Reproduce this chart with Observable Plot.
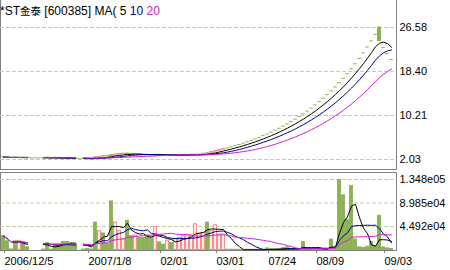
<!DOCTYPE html>
<html><head><meta charset="utf-8">
<script src="https://cdn.jsdelivr.net/npm/d3@7"></script>
<script src="https://cdn.jsdelivr.net/npm/@observablehq/plot@0.6"></script>
<style>
body{margin:0;background:#fff;}
#wrap{position:relative;width:450px;height:270px;overflow:hidden;font-family:"Liberation Sans",Arial,"Noto Sans CJK SC",sans-serif;}
#title{position:absolute;left:0px;top:4px;font-size:12px;line-height:14px;white-space:pre;z-index:2;color:#000;}
#title .cjk{font-size:10.5px;}
#price{position:absolute;left:0;top:0;}
#vol{position:absolute;left:0;top:170px;}
</style></head><body>
<div id="wrap"><div id="price"></div><div id="vol"></div><div id="title"></div></div>
<script>
// ---- data ----
const stockPrefix = "*ST";
const stockName = "金泰";
const stockCode = "600385";
const maPeriods = [5, 10, 20];
const tickIndex = [0, 21, 39, 53, 66, 78, 95];
const tickLabels = ["2006/12/5", "2007/1/8", "02/01", "03/01", "07/24", "08/09", "09/03"];
const priceTicks = [2.03, 10.21, 18.40, 26.58];
const volTicks = [44923, 89847, 134770];

const open = [2.48,2.45,2.40,2.42,2.36,2.40,2.36,2.33,2.33,2.33,
  2.33,2.36,2.33,2.34,2.31,2.28,2.27,2.25,2.23,2.19,
  2.19,2.19,2.16,2.42,2.36,2.62,2.66,2.85,2.75,2.93,
  3.05,3.12,3.01,2.96,3.02,2.95,2.91,2.87,2.82,2.90,
  2.86,2.82,2.85,2.82,2.85,2.88,2.89,2.90,2.86,2.90,
  2.98,3.26,3.30,3.48,3.65,3.85,4.16,4.37,4.59,4.82,
  5.06,5.31,5.58,5.86,6.15,6.46,6.78,7.12,7.48,7.85,
  8.24,8.65,9.08,9.53,10.01,10.51,11.04,11.59,12.17,12.78,
  13.42,14.09,14.79,15.53,16.31,17.13,17.99,18.89,19.83,20.82,
  21.86,22.95,24.10,25.31,26.58,22.85,21.71,20.62];
const high = [2.50,2.46,2.41,2.43,2.42,2.41,2.37,2.33,2.33,2.33,
  2.34,2.37,2.34,2.35,2.32,2.30,2.28,2.26,2.24,2.19,
  2.20,2.20,2.17,2.46,2.55,2.66,2.70,2.90,2.96,3.08,
  3.12,3.15,3.03,3.04,3.03,2.97,2.93,2.88,2.93,2.91,
  2.87,2.87,2.86,2.86,2.89,2.91,2.93,2.94,2.95,2.96,
  3.10,3.26,3.42,3.59,3.77,3.96,4.16,4.37,4.59,4.82,
  5.06,5.31,5.58,5.86,6.15,6.46,6.78,7.12,7.48,7.85,
  8.24,8.65,9.08,9.53,10.01,10.51,11.04,11.59,12.17,12.78,
  13.42,14.09,14.79,15.53,16.31,17.13,17.99,18.89,19.83,20.82,
  21.86,22.95,24.10,25.31,26.58,22.85,21.71,20.62];
const low = [2.42,2.38,2.39,2.35,2.35,2.35,2.32,2.33,2.33,2.33,
  2.32,2.31,2.32,2.29,2.26,2.24,2.22,2.20,2.18,2.19,
  2.17,2.03,2.12,2.30,2.34,2.55,2.60,2.70,2.74,2.90,
  3.02,2.98,2.94,2.95,2.94,2.89,2.85,2.81,2.81,2.84,
  2.81,2.81,2.80,2.81,2.84,2.86,2.87,2.88,2.84,2.88,
  2.96,3.15,3.28,3.45,3.62,3.80,4.16,4.37,4.59,4.82,
  5.06,5.31,5.58,5.86,6.15,6.46,6.78,7.12,7.48,7.85,
  8.24,8.65,9.08,9.53,10.01,10.51,11.04,11.59,12.17,12.78,
  13.42,14.09,14.79,15.53,16.31,17.13,17.99,18.89,19.83,20.82,
  21.86,22.95,24.10,25.31,24.05,22.85,21.71,20.62];
const close = [2.45,2.40,2.40,2.36,2.40,2.36,2.33,2.33,2.33,2.33,
  2.33,2.33,2.33,2.30,2.27,2.25,2.23,2.21,2.19,2.19,
  2.18,2.14,2.14,2.35,2.52,2.58,2.64,2.74,2.93,3.05,
  3.10,3.00,2.96,3.02,2.95,2.91,2.87,2.83,2.90,2.86,
  2.82,2.85,2.82,2.85,2.88,2.90,2.91,2.92,2.93,2.95,
  3.10,3.26,3.42,3.59,3.77,3.96,4.16,4.37,4.59,4.82,
  5.06,5.31,5.58,5.86,6.15,6.46,6.78,7.12,7.48,7.85,
  8.24,8.65,9.08,9.53,10.01,10.51,11.04,11.59,12.17,12.78,
  13.42,14.09,14.79,15.53,16.31,17.13,17.99,18.89,19.83,20.82,
  21.86,22.95,24.10,25.31,24.05,22.85,21.71,20.62];
// null = suspended day (no trading)
const volume = [26400,16600,1000,16600,17500,13000,5000,null,null,null,
  800,13000,800,10700,10700,15200,15200,13000,11300,null,
  800,2300,1000,52300,36000,31600,11300,92800,52300,36100,
  19900,55700,26400,27700,23000,23000,27700,23000,44000,14600,
  10200,18000,13300,21100,23000,26400,26400,28300,49200,30900,
  32800,52300,36100,47300,29700,29700,600,500,500,400,
  400,500,400,400,500,600,3000,1500,1200,1500,
  3500,4900,1500,1200,1800,15200,2500,1800,1500,1800,
  2000,2200,19900,2500,133800,104500,57000,122000,19900,5000,
  4000,6000,15200,6800,65400,4900,3000,2000];

// ---- derived table ----
const N = close.length;
const bars = d3.range(N).map(i => ({
  i, o: open[i], h: high[i], l: low[i], c: close[i], v: volume[i],
  up: close[i] > open[i], doji: close[i] === open[i]
}));
function movingAvg(values, k) {
  const out = [], buf = [];
  for (let i = 0; i < values.length; i++) {
    if (volume[i] === null) { out.push(undefined); continue; }
    buf.push(values[i]);
    if (buf.length > k) buf.shift();
    out.push(d3.mean(buf));
  }
  return out;
}
const volVals = volume.map(v => v === null ? 0 : v);
const maRows = maPeriods.map(k => {
  const pm = movingAvg(close, k), vm = movingAvg(volVals, k);
  return d3.range(N).map(i => ({i, price: pm[i], vol: vm[i]}));
});

// ---- styles ----
const GREEN = "#8db255", PINK = "#f08c8c", PINKFILL = "#fff0f0";
const GRID = "#cbcba0", FRAME = "#808080";
const MACOLORS = ["#000000", "#00008b", "#cc22cc"];
const FONT = "'Liberation Sans', Arial, sans-serif";

// ---- title ----
const title = d3.select("#title");
title.append("span").text(stockPrefix);
title.append("span").attr("class", "cjk").text(stockName);
title.append("span").text(` [${stockCode}] MA( `);
maPeriods.forEach((p, j) => {
  title.append("span").style("color", MACOLORS[j]).text(p);
  if (j < maPeriods.length - 1) title.append("span").text(" ");
});

const xScale = {type: "linear", domain: [0, N - 1], range: [3, 391]};

// ---- price panel ----
const priceChart = Plot.plot({
  width: 450, height: 170,
  marginLeft: 0, marginRight: 54, marginTop: 0, marginBottom: 1,
  style: {fontFamily: FONT, fontSize: "11px", background: "white", color: "black"},
  x: {...xScale, axis: null},
  y: {domain: [priceTicks[0], priceTicks[priceTicks.length - 1]], range: [159, 27]},
  marks: [
    Plot.frame({stroke: FRAME, insetTop: -5}),
    Plot.gridY(priceTicks, {stroke: GRID, strokeOpacity: 1, strokeDasharray: "4,2"}),
    Plot.axisY(priceTicks, {anchor: "right", tickSize: 0, tickPadding: 3, tickFormat: d => d.toFixed(2), label: null, fill: "black"}),
    Plot.ruleX(bars.filter(d => d.h > d.l), {x: "i", y1: "l", y2: "h", stroke: d => d.up ? PINK : GREEN}),
    Plot.rect(bars.filter(d => !d.doji), {
      x1: d => d.i - 0.38, x2: d => d.i + 0.38, y1: "o", y2: "c",
      fill: d => d.up ? PINKFILL : GREEN, stroke: d => d.up ? PINK : GREEN
    }),
    Plot.ruleY(bars.filter(d => d.doji), {y: "c", x1: d => d.i - 0.45, x2: d => d.i + 0.45, stroke: GREEN}),
    ...maRows.map((rows, j) => Plot.line(rows, {x: "i", y: "price", stroke: MACOLORS[j], strokeWidth: 1}))
  ]
});
document.getElementById("price").append(priceChart);

// ---- volume panel ----
const fmtExp = d => {
  const [m, e] = d.toExponential(3).split("e");
  const n = Math.abs(+e);
  return m + "e" + (+e < 0 ? "-" : "") + String(n).padStart(2, "0");
};
const volChart = Plot.plot({
  width: 450, height: 100,
  marginLeft: 0, marginRight: 54, marginTop: 2, marginBottom: 20,
  style: {fontFamily: FONT, fontSize: "11px", background: "white", color: "black"},
  x: xScale,
  y: {domain: [0, volTicks[volTicks.length - 1]], range: [79.5, 9]},
  marks: [
    Plot.frame({stroke: FRAME}),
    Plot.gridY(volTicks, {stroke: GRID, strokeOpacity: 1, strokeDasharray: "4,2"}),
    Plot.axisY(volTicks, {anchor: "right", tickSize: 0, tickPadding: 3, tickFormat: fmtExp, label: null, fill: "black"}),
    Plot.axisX(tickIndex, {anchor: "bottom", tickSize: 3, tickPadding: 4, label: null,
      tickFormat: d => tickLabels[tickIndex.indexOf(d)], textAnchor: "start", dx: 1,
      stroke: FRAME, fill: "black"}),
    Plot.rect(bars.filter(d => d.v), {
      x1: d => d.i - 0.36, x2: d => d.i + 0.36, y1: 0, y2: "v",
      fill: d => d.up ? PINKFILL : GREEN, stroke: d => d.up ? PINK : GREEN
    }),
    ...maRows.map((rows, j) => Plot.line(rows, {x: "i", y: "vol", stroke: MACOLORS[j], strokeWidth: 1}))
  ]
});
document.getElementById("vol").append(volChart);
</script>
</body></html>
